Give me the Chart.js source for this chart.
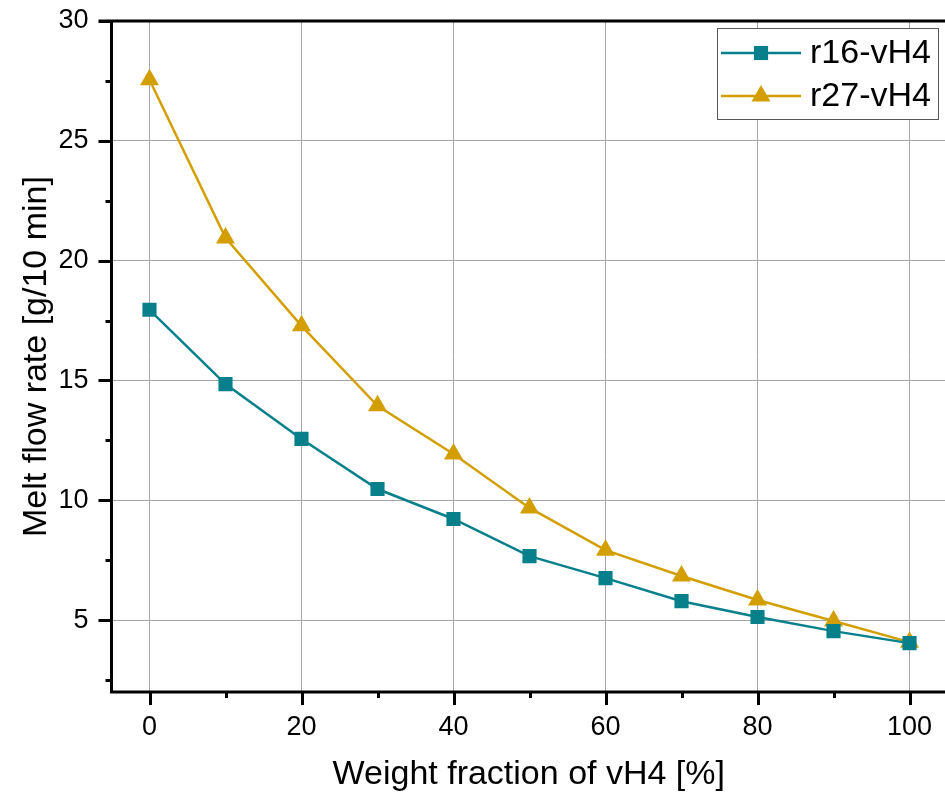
<!DOCTYPE html>
<html>
<head>
<meta charset="utf-8">
<script src="https://cdn.jsdelivr.net/npm/chart.js@4/dist/chart.umd.min.js"></script>
<style>
  html, body { margin: 0; padding: 0; background: #fff; overflow: hidden; }
  /* the plot runs on past the right edge of the page */
  #wrap { width: 957px; height: 798px; position: relative; }
  #mfr { display: block; }
</style>
</head>
<body>
<div id="wrap"><canvas id="mfr"></canvas></div>
<script>
var fractions = [0, 10, 20, 30, 40, 50, 60, 70, 80, 90, 100];
var r16 = [17.95, 14.85, 12.56, 10.47, 9.22, 7.67, 6.75, 5.79, 5.13, 4.54, 4.04];
var r27 = [27.55, 20.95, 17.28, 13.94, 11.93, 9.68, 7.92, 6.84, 5.84, 4.96, 4.08];
var xTicks = [0, 10, 20, 30, 40, 50, 60, 70, 80, 90, 100];
var yTicks = [2.5, 5, 7.5, 10, 12.5, 15, 17.5, 20, 22.5, 25, 27.5, 30];

var TEAL = "#07808b";
var GOLD = "#d39f00";
var FONT = "'Liberation Sans', Arial, sans-serif";

function pairs(ys) {
    return fractions.map(function (x, i) { return { x: x, y: ys[i] }; });
}

// x labels every 20, y labels every 5; the rest are minor ticks
function isMajorX(v) { return v % 20 === 0; }
function isMajorY(v) { return v % 5 === 0; }

// keep the plot area where the layout puts it, no extra room for label overhang
function noPad(s) {
    s.paddingTop = 0;
    s.paddingBottom = 0;
    s.paddingLeft = 0;
    s.paddingRight = 0;
}

// axis lines, frame top and the outward tick marks
var axesPlugin = {
    id: "axes",
    afterDraw: function (chart) {
        var ctx = chart.ctx;
        var a = chart.chartArea;
        var xs = chart.scales.x, ys = chart.scales.y;
        ctx.save();
        ctx.strokeStyle = "#000";
        ctx.lineWidth = 3;
        ctx.beginPath();
        ctx.moveTo(a.left, a.bottom);
        ctx.lineTo(a.left, a.top);
        ctx.moveTo(a.left - 13, a.top);
        ctx.lineTo(a.right + 2, a.top);
        ctx.moveTo(a.left - 1.5, a.bottom);
        ctx.lineTo(a.right + 2, a.bottom);
        xTicks.forEach(function (v) {
            var px = Math.round(xs.getPixelForValue(v)) + 0.5;
            var len = isMajorX(v) ? 13 : 6;
            ctx.moveTo(px, a.bottom);
            ctx.lineTo(px, a.bottom + len);
        });
        yTicks.forEach(function (v) {
            var py = Math.round(ys.getPixelForValue(v)) + 0.5;
            var len = isMajorY(v) ? 13 : 6;
            ctx.moveTo(a.left, py);
            ctx.lineTo(a.left - len, py);
        });
        ctx.stroke();
        ctx.restore();
    }
};

// boxed legend in the top right corner, line + marker per series
var legendPlugin = {
    id: "boxLegend",
    afterDraw: function (chart) {
        var ctx = chart.ctx;
        var bx = 717, by = 28, bw = 221, bh = 91;
        ctx.save();
        ctx.fillStyle = "#fff";
        ctx.fillRect(bx, by, bw, bh);
        ctx.strokeStyle = "#555";
        ctx.lineWidth = 1;
        ctx.strokeRect(bx + 0.5, by + 0.5, bw, bh);
        chart.data.datasets.forEach(function (ds, i) {
            var cy = by + 25 + i * 43;
            ctx.strokeStyle = ds.borderColor;
            ctx.lineWidth = 2.5;
            ctx.beginPath();
            ctx.moveTo(bx + 4, cy);
            ctx.lineTo(bx + 84, cy);
            ctx.stroke();
            ctx.fillStyle = ds.backgroundColor;
            Chart.helpers.drawPoint(ctx, {
                pointStyle: ds.pointStyle,
                radius: ds.pointRadius,
                borderWidth: 0
            }, bx + 44, cy);
            ctx.fillStyle = "#000";
            ctx.font = "34px " + FONT;
            ctx.textBaseline = "middle";
            ctx.textAlign = "left";
            ctx.fillText(ds.label, bx + 93, cy + 1);
        });
        ctx.restore();
    }
};

new Chart(document.getElementById("mfr"), {
    type: "line",
    data: {
        datasets: [
            {
                label: "r16-vH4",
                data: pairs(r16),
                borderColor: TEAL,
                backgroundColor: TEAL,
                borderWidth: 2.5,
                pointStyle: "rect",
                pointRadius: 10,
                pointBorderWidth: 0,
                tension: 0
            },
            {
                label: "r27-vH4",
                data: pairs(r27),
                borderColor: GOLD,
                backgroundColor: GOLD,
                borderWidth: 2.5,
                pointStyle: "triangle",
                pointRadius: 11,
                pointBorderWidth: 0,
                tension: 0
            }
        ]
    },
    options: {
        responsive: true,
        maintainAspectRatio: false,
        animation: false,
        layout: { padding: { top: 21, right: 0, left: 0, bottom: 0 } },
        plugins: {
            legend: { display: false },
            tooltip: { enabled: false }
        },
        scales: {
            x: {
                type: "linear",
                min: -5,
                max: 104.8,
                afterBuildTicks: function (s) {
                    s.ticks = xTicks.map(function (v) { return { value: v }; });
                },
                afterFit: function (s) { s.height = 106; noPad(s); },
                grid: {
                    drawTicks: false,
                    lineWidth: 1,
                    color: function (c) {
                        return c.tick && isMajorX(c.tick.value) ? "#a6a6a6" : "rgba(0,0,0,0)";
                    }
                },
                border: { display: false },
                ticks: {
                    padding: 19,
                    maxRotation: 0,
                    autoSkip: false,
                    color: "#000",
                    font: { family: FONT, size: 27 },
                    callback: function (v) { return isMajorX(v) ? String(v) : ""; }
                },
                title: {
                    display: true,
                    text: "Weight fraction of vH4 [%]",
                    color: "#000",
                    font: { family: FONT, size: 34 },
                    padding: { top: 0, bottom: 3 }
                }
            },
            y: {
                type: "linear",
                min: 2,
                max: 30,
                afterBuildTicks: function (s) {
                    s.ticks = yTicks.map(function (v) { return { value: v }; });
                },
                afterFit: function (s) { s.width = 111.5; noPad(s); },
                grid: {
                    drawTicks: false,
                    lineWidth: 1,
                    color: function (c) {
                        return c.tick && isMajorY(c.tick.value) ? "#a6a6a6" : "rgba(0,0,0,0)";
                    }
                },
                border: { display: false },
                ticks: {
                    padding: 23,
                    autoSkip: false,
                    color: "#000",
                    font: { family: FONT, size: 27 },
                    callback: function (v) { return isMajorY(v) ? String(v) : ""; }
                },
                title: {
                    display: true,
                    text: "Melt flow rate [g/10 min]",
                    color: "#000",
                    font: { family: FONT, size: 34 },
                    padding: { top: 16, bottom: 0 }
                }
            }
        }
    },
    plugins: [axesPlugin, legendPlugin]
});
</script>
</body>
</html>
